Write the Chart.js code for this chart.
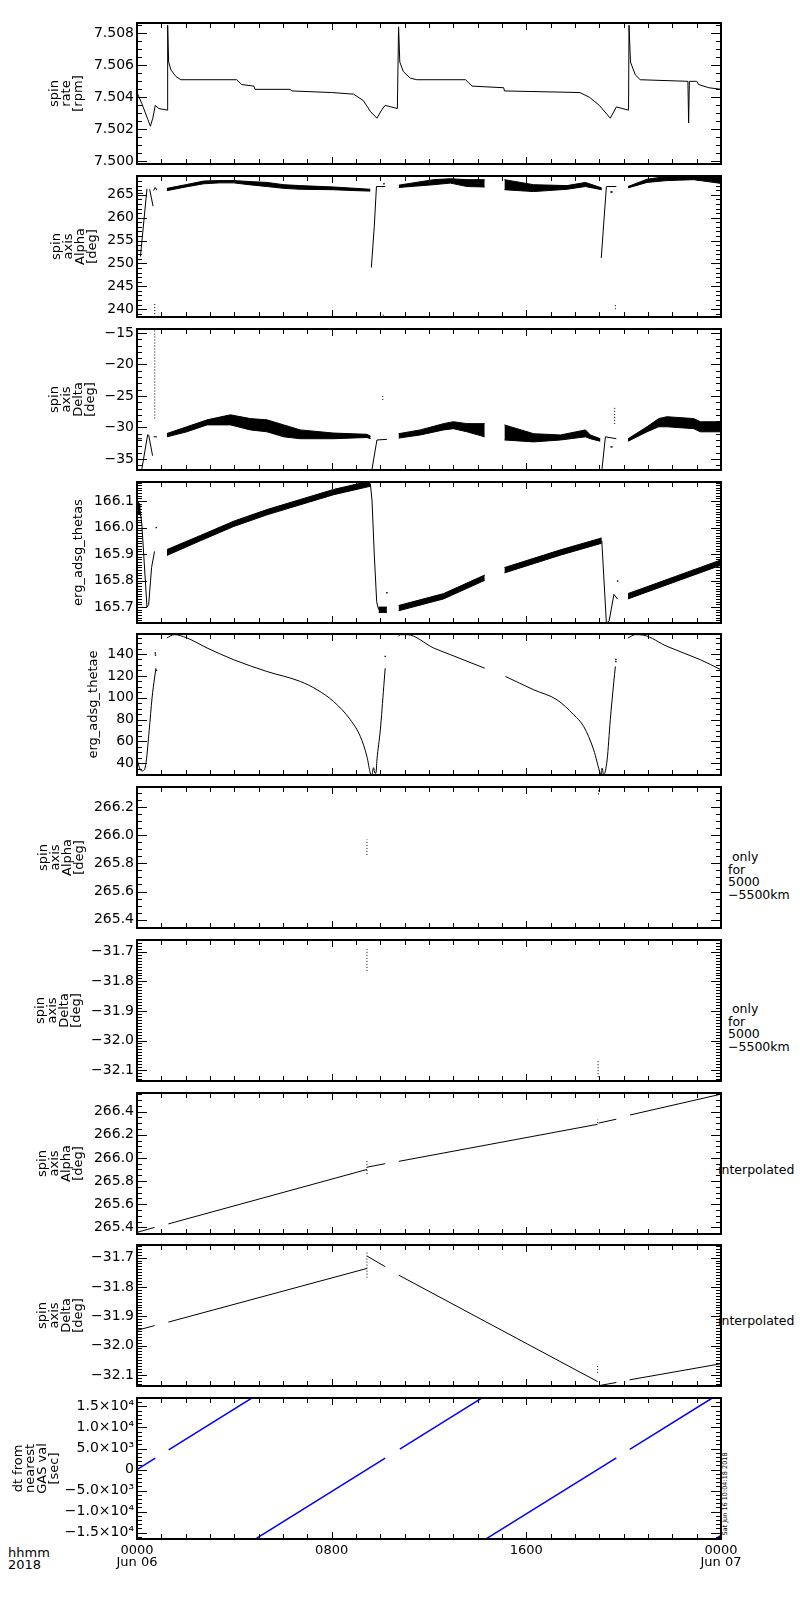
<!DOCTYPE html>
<html>
<head>
<meta charset="utf-8">
<script src="https://cdn.jsdelivr.net/npm/chart.js@4.4.1/dist/chart.umd.min.js"></script>
<style>
body { margin: 0; background: #fff; width: 800px; height: 1600px; position: relative; overflow: hidden; font-family: 'DejaVu Sans', sans-serif; color: #000; }
canvas { position: absolute; left: 0; }
.note { position: absolute; font-size: 12.5px; line-height: 11.5px; white-space: pre; }
.stamp { position: absolute; left: 680px; top: 1489px; width: 90px; text-align: center; font-size: 6.5px; line-height: 10px; white-space: nowrap; transform: rotate(-90deg); }
</style>
</head>
<body>
<div class="note" style="left:728px;top:851px;line-height:12.5px"> only
for
5000
−5500km</div>
<div class="note" style="left:728px;top:1003px;line-height:12.5px"> only
for
5000
−5500km</div>
<div class="note" style="left:718px;top:1164px">interpolated</div>
<div class="note" style="left:718px;top:1315px">interpolated</div>
<div class="note" style="left:8px;top:1547px;font-size:13px;line-height:12px">hhmm
2018</div>
<div class="stamp">Sat Jun 16 10:04:18 2018</div>

<script>
// time axis (hours from 0000 Jun 06)
const xTickHours = [0, 8, 16, 24];
const xTickLabels = [['0000', 'Jun 06'], ['0800'], ['1600'], ['0000', 'Jun 07']];

// spin rate [rpm]
const rateHour = [0, 0.2, 0.45, 0.55, 0.65, 0.75, 0.9, 1.25, 1.26, 1.3, 1.4, 1.6, 1.8, 4.1, 4.3, 4.8, 4.85, 6.3, 6.35, 8.0,
  8.9, 9.3, 9.6, 9.86, 10.05, 10.2, 10.7, 10.75, 10.8, 10.95, 11.23, 11.5, 13.5, 13.77, 15.07, 15.1, 18.2, 18.6, 19.0, 19.45,
  19.7, 20.2, 20.22, 20.28, 20.48, 20.68, 22.64, 22.67, 22.7, 23.0, 23.08, 23.5, 24];
const rateRpm = [7.5043, 7.5036, 7.5026, 7.5022, 7.5027, 7.5035, 7.5033, 7.5032, 7.5085, 7.5062, 7.5057, 7.5053, 7.5051, 7.5051, 7.5048, 7.5047, 7.5045, 7.5045, 7.5044, 7.5043,
  7.5042, 7.5038, 7.5031, 7.5027, 7.5032, 7.5035, 7.5033, 7.5084, 7.5062, 7.5056, 7.5052, 7.5051, 7.5051, 7.5047, 7.5046, 7.5044, 7.5043, 7.5040, 7.5035, 7.5027,
  7.5034, 7.5032, 7.5085, 7.5062, 7.5054, 7.5051, 7.5050, 7.5024, 7.5050, 7.5050, 7.5048, 7.5046, 7.5045];

// spin axis alpha [deg]
const alphaLineHour = [0, 0.25, 0.25, 0.14, 0.41, 0.41, 0.52, 0.66, 0.66, 0.68, 0.75, 0.82, 0.82, 9.63, 9.75, 9.84, 10.2, 10.2, 19.08, 19.29, 19.7];
const alphaLineDeg = [265.3, 265.3, null, 251.5, 266.3, null, 266.2, 262.5, null, 265.9, 266.6, 266.0, null, 249.1, 258.0, 266.8, 266.8, null, 251.2, 266.8, 266.8];
const alphaBandHour = [1.23, 2.0, 2.74, 3.4, 3.97, 4.6, 5.34, 6.03, 6.71, 8.08, 9.0, 9.59, 10, 10.76, 12.19, 12.88, 13.56, 14.29, 14.7,
  15.1, 16.3, 17.67, 18.43, 19.1, 19.6, 20.18, 20.96, 21.78, 22.88, 23.97, 24];
const alphaBandLo = [265.9, 266.7, 267.4, 267.6, 267.6, 267.2, 266.8, 266.4, 266.2, 266.1, 265.9, 265.8, null, 266.6, 267.2, 267.55, 266.8, 266.7, null,
  266.1, 265.7, 266.2, 266.8, 266.1, null, 266.5, 267.7, 268.1, 268.3, 267.5, 267.6];
const alphaBandHi = [266.4, 267.2, 268.0, 268.1, 268.1, 267.9, 267.7, 267.2, 267.0, 266.7, 266.4, 266.2, null, 267.1, 268.3, 268.5, 268.3, 268.3, null,
  268.3, 267.2, 267.0, 267.7, 266.5, null, 266.8, 268.4, 269.0, 269.0, 268.8, 268.8];
const alphaDashHour = [0.73, 0.73, 0.73, 19.66, 19.66, 19.66, 10.12, 10.12];
const alphaDashDeg = [238.3, 241.3, null, 240.0, 241.0, null, 238.6, 239.0];
const alphaDotHour = [10.15, 19.48, 19.52];
const alphaDotDeg = [267.4, 265.6, 265.6];

// spin axis delta [deg]
const deltaLineHour = [0, 0.2, 0.2, 0.2, 0.44, 0.44, 0.48, 0.64, 0.64, 0.68, 0.82, 0.82, 9.66, 9.86, 10.27, 10.27, 19.11, 19.25, 19.7];
const deltaLineDeg = [-31.8, -31.8, null, -36.6, -31.1, null, -31.2, -34.5, null, -31.5, -31.5, null, -36.6, -32.0, -31.9, null, -36.6, -31.5, -31.8];
const deltaBandHour = [1.23, 2.05, 2.88, 3.84, 4.66, 5.34, 6.03, 6.71, 8.08, 9.45, 9.6, 10.2, 10.75, 11.64, 12.6, 13.0, 13.56, 14.29, 14.7,
  15.1, 16.3, 17.4, 18.43, 18.63, 19.04, 19.6, 20.18, 20.96, 21.44, 21.78, 22.88, 23.15, 24];
const deltaBandLo = [-31.5, -30.7, -29.6, -29.6, -30.4, -30.7, -31.5, -31.8, -31.8, -31.6, -31.8, null, -31.7, -31.2, -30.4, -30.2, -30.7, -31.5, null,
  -32.0, -32.3, -32.0, -31.5, -31.8, -32.2, null, -32.2, -30.7, -29.9, -29.9, -30.2, -30.7, -30.7];
const deltaBandHi = [-30.97, -29.9, -28.8, -28.0, -28.6, -28.8, -29.6, -30.4, -30.9, -31.1, -31.4, null, -31.0, -30.4, -29.4, -29.1, -29.4, -29.4, null,
  -29.6, -31.0, -31.2, -30.4, -31.2, -31.8, null, -31.8, -29.9, -28.6, -28.3, -28.6, -29.1, -29.1];
const deltaDashHour = [0.73, 0.73, 0.73, 19.63, 19.63, 19.63, 10.1, 10.1];
const deltaDashDeg = [-14.6, -28.8, null, -26.9, -29.6, null, -25.0, -25.7];
const deltaDotHour = [19.48, 19.52];
const deltaDotDeg = [-33.1, -33.1];

// erg_adsg_thetas
const thetasLineHour = [0, 0.14, 0.2, 0.41, 0.48, 0.6, 0.72, 0.72, 9.59, 9.66, 9.75, 9.85, 9.93, 9.93, 19.1, 19.29, 19.4, 19.6, 19.75];
const thetasLineDeg = [166.08, 166.06, 166.01, 165.70, 165.71, 165.85, 165.91, null, 166.166, 166.10, 165.90, 165.72, 165.69, null, 165.951, 165.64, 165.647, 165.748, 165.73];
const thetasBandHour = [0, 0.15, 0.15, 1.23, 2.6, 3.97, 5.34, 6.71, 8.08, 9.59, 9.59, 9.93, 10.27, 10.27, 10.75, 12.6, 14.29, 14.29,
  15.1, 17.4, 19.1, 19.1, 20.18, 24];
const thetasBandLo = [166.06, 166.045, null, 165.895, 165.95, 166.004, 166.048, 166.086, 166.124, 166.156, null, 165.68, 165.68, null, 165.686, 165.731, 165.801, null,
  165.829, 165.896, 165.941, null, 165.731, 165.858];
const thetasBandHi = [166.10, 166.085, null, 165.917, 165.97, 166.024, 166.068, 166.106, 166.144, 166.176, null, 165.70, 165.70, null, 165.706, 165.751, 165.821, null,
  165.849, 165.916, 165.961, null, 165.751, 165.878];
const thetasDotHour = [0.79, 10.27, 19.75];
const thetasDotDeg = [166.0, 165.754, 165.798];

// erg_adsg_thetae
const thetaeHour = [0, 0.1, 0.2, 0.3, 0.38, 0.5, 0.62, 0.72, 0.78, 0.78,
  1.23, 1.53, 2.05, 2.88, 3.97, 5.34, 6.71, 7.4, 8.08, 8.77, 9.18, 9.45, 9.59, 9.65, 9.72, 9.78, 9.82, 9.86, 10.0, 10.14, 10.2, 10.2,
  10.74, 10.82, 11.1, 12.19, 12.88, 14.29, 14.29,
  15.14, 16.3, 17.26, 17.95, 18.36, 18.77, 19.04, 19.08, 19.11, 19.18, 19.32, 19.45, 19.59, 19.66, 19.66,
  20.18, 20.48, 20.82, 21.78, 23.15, 24];
const thetaeDeg = [44, 36, 33, 34, 42, 70, 100, 118, 127, null,
  154.7, 157.7, 154.7, 145.5, 134.8, 124, 114.9, 107.3, 96.5, 79.8, 64.4, 46.1, 31, 29.5, 36, 31, 31, 43, 70.6, 110, 127, null,
  156.1, 157.7, 157.7, 145.5, 139.4, 127, null,
  119.5, 107.3, 98.1, 84.3, 73.6, 52.2, 30.9, 29.5, 35.6, 29.6, 43.1, 79.8, 113.4, 128.6, null,
  154.7, 157.7, 157.2, 147, 134.8, 125.6];
const thetaeDotHour = [0.75, 0.76, 0.8, 10.2, 19.68, 19.68];
const thetaeDotDeg = [140.9, 139, 125, 137.8, 133, 135];

// spin axis only for 5000-5500km
const alphaOnlyHour = [9.45, 9.45, 9.45, 18.97, 18.97];
const alphaOnlyDeg = [265.86, 265.97, null, 266.29, 266.32];
const deltaOnlyHour = [9.45, 9.45, 9.45, 18.95, 18.95];
const deltaOnlyDeg = [-31.69, -31.77, null, -32.07, -32.13];

// spin axis interpolated
const alphaIntHour = [0, 0.72, 0.72, 1.29, 9.45, 9.45, 9.46, 10.2, 10.2, 10.76, 18.93, 18.93, 18.97, 19.7, 19.7, 20.26, 24];
const alphaIntDeg = [265.357, 265.40, null, 265.43, 265.90, null, 265.92, 265.95, null, 265.97, 266.29, null, 266.30, 266.334, null, 266.37, 266.55];
const alphaIntDashHour = [9.45, 9.45, 9.45, 18.93, 18.93];
const alphaIntDashDeg = [265.86, 265.98, null, 266.30, 266.33];
const deltaIntHour = [0, 0.72, 0.72, 1.29, 9.45, 9.45, 9.46, 10.2, 10.2, 10.76, 18.93, 18.93, 18.97, 19.7, 19.7, 20.24, 24];
const deltaIntDeg = [-31.948, -31.932, null, -31.92, -31.737, null, -31.695, -31.731, null, -31.76, -32.123, null, -32.137, -32.126, null, -32.117, -32.062];
const deltaIntDashHour = [9.45, 9.45, 9.45, 18.93, 18.93];
const deltaIntDashDeg = [-31.683, -31.768, null, -32.07, -32.10];

// dt from nearest GAS val [sec]
const dtHour = [0, 0.75, 0.75, 1.3, 4.75, 4.75, 4.75, 10.2, 10.2, 10.8, 14.22, 14.22, 14.22, 19.7, 19.7, 20.25, 23.64, 23.64, 23.64, 24];
const dtSec = [0, 2700, null, 4680, 17100, null, -16920, 2700, null, 4860, 17170, null, -16920, 2800, null, 4790, 17000, null, -16920, -15620];
const dtTickValues = [-15000, -10000, -5000, 0, 5000, 10000, 15000];
const dtTickLabels = ['−1.5×10⁴', '−1.0×10⁴', '−5.0×10³', '0', '5.0×10³', '1.0×10⁴', '1.5×10⁴'];

//-------------------------------------------------//

const FONT = "'DejaVu Sans', sans-serif";
const AREA_LEFT = 137, AREA_RIGHT = 721, AREA_H = 141, PAD = 14;

function pts(t, v) { return t.map((h, i) => ({ x: h, y: v[i] })); }

function line(t, v, extra) {
  return Object.assign({ data: pts(t, v), showLine: true, borderColor: '#000', borderWidth: 1,
    pointRadius: 0, spanGaps: false, fill: false }, extra);
}

function dashed(t, v) { return line(t, v, { borderDash: [1, 2] }); }

function dots(t, v) {
  return { data: pts(t, v), showLine: false, pointRadius: 1, pointStyle: 'rect',
    backgroundColor: '#000', borderWidth: 0 };
}

// noisy bands: lower edge + upper edge filled to it, split at nulls
function band(t, lo, hi) {
  const out = [];
  let s = 0;
  for (let i = 0; i <= t.length; i++) {
    if (i === t.length || lo[i] === null) {
      if (i - s > 1) {
        out.push(line(t.slice(s, i), lo.slice(s, i)));
        out.push(line(t.slice(s, i), hi.slice(s, i), { fill: '-1', backgroundColor: '#000' }));
      }
      s = i + 1;
    }
  }
  return out;
}

const num = d => v => v.toFixed(d).replace('-', '\u2212');
const dtLabel = v => {
  const k = dtTickValues.findIndex(t => Math.abs(t - v) < 1);
  return k >= 0 ? dtTickLabels[k] : '';
};

const panels = [
  { title: ['spin', 'rate', '[rpm]'], titleX: 55, min: 7.49984, max: 7.50864, major: 0.002, minor: 0.0005, fmt: num(3),
    sets: [line(rateHour, rateRpm)] },
  { title: ['spin', 'axis', 'Alpha', '[deg]'], titleX: 57, min: 238.3, max: 269.1, major: 5, minor: 1, fmt: num(0),
    sets: [...band(alphaBandHour, alphaBandLo, alphaBandHi), line(alphaLineHour, alphaLineDeg), dashed(alphaDashHour, alphaDashDeg), dots(alphaDotHour, alphaDotDeg)] },
  { title: ['spin', 'axis', 'Delta', '[deg]'], titleX: 55, min: -36.77, max: -14.36, major: 5, minor: 1, fmt: num(0),
    sets: [...band(deltaBandHour, deltaBandLo, deltaBandHi), line(deltaLineHour, deltaLineDeg), dashed(deltaDashHour, deltaDashDeg), dots(deltaDotHour, deltaDotDeg)] },
  { title: ['erg_adsg_thetas'], titleX: 79, min: 165.64, max: 166.172, major: 0.1, minor: 0.01, fmt: num(1),
    sets: [...band(thetasBandHour, thetasBandLo, thetasBandHi), line(thetasLineHour, thetasLineDeg), dots(thetasDotHour, thetasDotDeg)] },
  { title: ['erg_adsg_thetae'], titleX: 94, min: 29.3, max: 158.3, major: 20, minor: 5, fmt: num(0),
    sets: [line(thetaeHour, thetaeDeg, { cubicInterpolationMode: 'monotone' }), dots(thetaeDotHour, thetaeDotDeg)] },
  { title: ['spin', 'axis', 'Alpha', '[deg]'], titleX: 43.5, min: 265.341, max: 266.342, major: 0.2, minor: 0.05, fmt: num(1),
    sets: [dashed(alphaOnlyHour, alphaOnlyDeg)] },
  { title: ['spin', 'axis', 'Delta', '[deg]'], titleX: 41, min: -32.137, max: -31.66, major: 0.1, minor: 0.01, fmt: num(1),
    sets: [dashed(deltaOnlyHour, deltaOnlyDeg)] },
  { title: ['spin', 'axis', 'Alpha', '[deg]'], titleX: 43, min: 265.343, max: 266.56, major: 0.2, minor: 0.05, fmt: num(1),
    sets: [line(alphaIntHour, alphaIntDeg), dashed(alphaIntDashHour, alphaIntDashDeg)] },
  { title: ['spin', 'axis', 'Delta', '[deg]'], titleX: 43, min: -32.138, max: -31.657, major: 0.1, minor: 0.01, fmt: num(1),
    sets: [line(deltaIntHour, deltaIntDeg), dashed(deltaIntDashHour, deltaIntDashDeg)] },
  { title: ['dt from', 'nearest', 'GAS val', '[sec]'], titleX: 19, min: -16500, max: 17000, major: 5000, minor: 1000, fmt: dtLabel,
    tickValues: dtTickValues,
    sets: [line(dtHour, dtSec, { borderColor: '#0000ff', borderWidth: 1.5 })] }
];

// IDL-style frame: box with inward ticks on all four sides
const idlFrame = {
  id: 'idlFrame',
  afterDatasetsDraw(chart, args, o) {
    const { ctx, chartArea: a, scales: { x, y } } = chart;
    ctx.save();
    ctx.strokeStyle = '#000';
    ctx.lineWidth = 1;
    ctx.beginPath();
    for (let k = Math.ceil(y.min / o.yMinor - 1e-6); k * o.yMinor <= y.max + 1e-9; k++) {
      const v = k * o.yMinor;
      const r = v / o.yMajor;
      const len = Math.abs(r - Math.round(r)) < 1e-6 ? 10 : 5;
      const py = Math.round(y.getPixelForValue(v)) + 0.5;
      ctx.moveTo(a.left, py); ctx.lineTo(a.left + len, py);
      ctx.moveTo(a.right, py); ctx.lineTo(a.right - len, py);
    }
    for (let h = 1; h < 24; h++) {
      const len = h % 8 === 0 ? 7 : 5;
      const px = Math.round(x.getPixelForValue(h)) + 0.5;
      ctx.moveTo(px, a.top); ctx.lineTo(px, a.top + len);
      ctx.moveTo(px, a.bottom); ctx.lineTo(px, a.bottom - len);
    }
    ctx.stroke();
    ctx.lineWidth = 2;
    ctx.strokeRect(Math.round(a.left), Math.round(a.top), Math.round(a.width), Math.round(a.height));
    ctx.restore();
  }
};

panels.forEach((p, i) => {
  const last = i === panels.length - 1;
  const top = Math.round(23.3 + i * 152.75);
  const h = PAD + AREA_H + (last ? 50 : PAD);
  const cv = document.createElement('canvas');
  cv.width = 800;
  cv.height = h;
  cv.style.top = (top - PAD) + 'px';
  cv.style.width = '800px';
  cv.style.height = h + 'px';
  document.body.appendChild(cv);

  new Chart(cv, {
    type: 'scatter',
    data: { datasets: p.sets },
    options: {
      responsive: false,
      animation: false,
      layout: { padding: { top: PAD, bottom: last ? 0 : PAD, left: 0, right: 800 - AREA_RIGHT } },
      plugins: {
        legend: { display: false },
        tooltip: { enabled: false },
        idlFrame: { yMajor: p.major, yMinor: p.minor }
      },
      scales: {
        x: {
          type: 'linear', min: 0, max: 24, display: last,
          afterFit(s) { if (last) s.height = 50; },
          grid: { display: false, drawTicks: false },
          border: { display: false },
          ticks: {
            stepSize: 8, autoSkip: false, maxRotation: 0, padding: 6, color: '#000',
            font: { family: FONT, size: 13, lineHeight: '12px' },
            callback: v => xTickLabels[xTickHours.indexOf(v)]
          }
        },
        y: {
          min: p.min, max: p.max,
          afterFit(s) { s.width = AREA_LEFT; },
          // big-valued axes: pin the ticks to the listed values
          afterBuildTicks(s) { if (p.tickValues) s.ticks = p.tickValues.map(v => ({ value: v })); },
          grid: { display: false, drawTicks: false },
          border: { display: false },
          ticks: { stepSize: p.major, includeBounds: false, autoSkip: false, padding: 3, color: '#000',
            font: { family: FONT, size: 14 }, callback: p.fmt },
          title: { display: true, text: p.title, color: '#000',
            font: { family: FONT, size: 13, lineHeight: '12px' },
            padding: { top: p.titleX - 6, bottom: 0 } }
        }
      }
    },
    plugins: [idlFrame]
  });
});
</script>
</body>
</html>
